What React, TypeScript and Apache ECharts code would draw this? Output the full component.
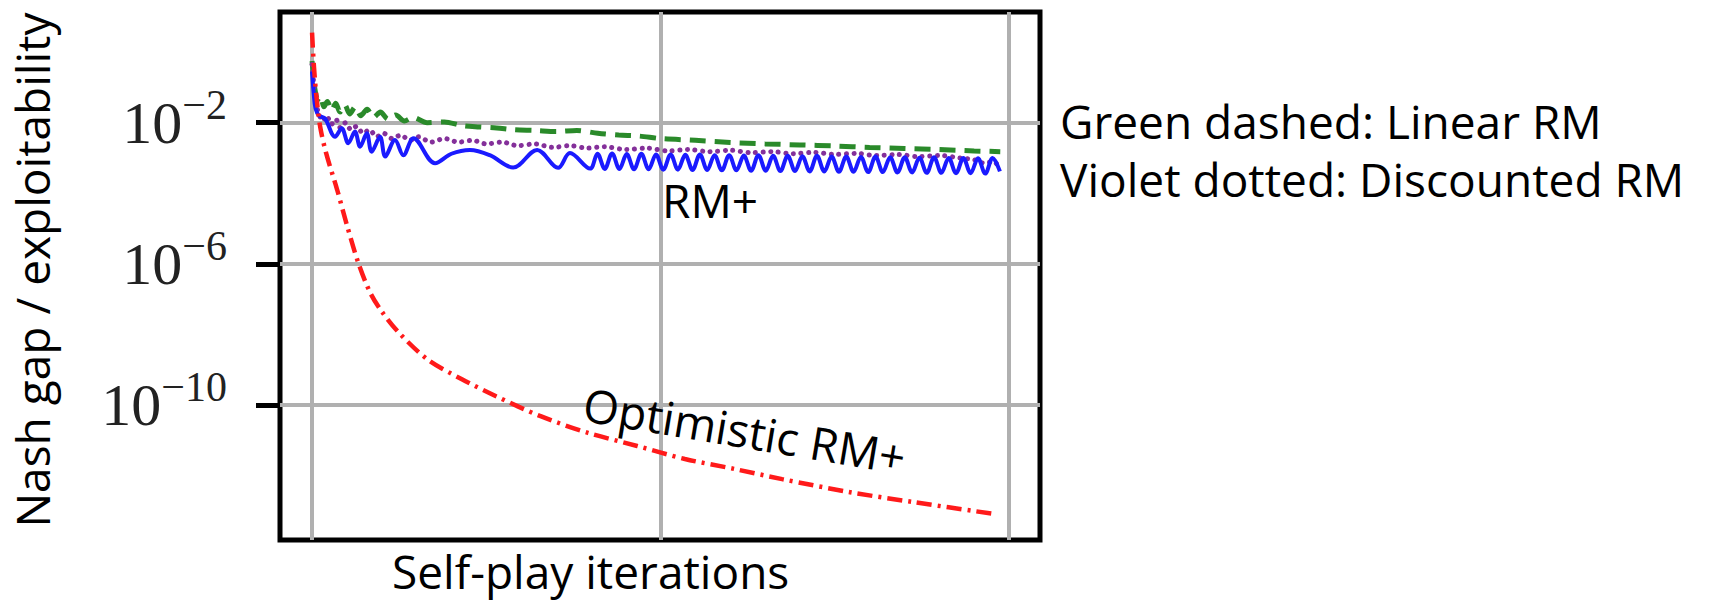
import React, { useEffect, useRef } from 'react';
import * as echarts from 'echarts';

// x axis: self-play iterations; y axis: log10 of Nash gap / exploitability
const xRange = [-92, 2089];
const yExponentRange = [-13.825, 1.137];
const iterationGridTicks = [0, 1000, 2000];
const exponentTicks = [-10, -6, -2];

// [iteration, log10(value)]
const optimisticRMPlus: number[][] = [
  [0, 0.55], [5, -0.35], [12, -1.2], [23, -2.1], [40, -2.85], [72, -3.9], [100, -4.9],
  [132, -5.95], [166, -6.8], [200, -7.35], [250, -7.96], [333, -8.72], [430, -9.27],
  [528, -9.75], [654, -10.31], [792, -10.79], [933, -11.16], [1070, -11.53],
  [1211, -11.81], [1349, -12.1], [1544, -12.47], [1725, -12.75], [1960, -13.09],
];

const linearRM: number[][] = [
  [0, -0.25], [5, -0.8], [10, -1.15], [16, -1.35], [24, -1.25], [34, -1.55], [44, -1.4],
  [56, -1.65], [68, -1.45], [80, -1.7], [94, -1.5], [108, -1.75], [124, -1.55],
  [140, -1.8], [158, -1.62], [176, -1.85], [196, -1.7], [218, -1.9], [240, -1.78],
  [265, -1.95], [290, -1.85], [330, -2.0], [380, -1.98], [430, -2.08], [480, -2.12],
  [530, -2.15], [580, -2.2], [640, -2.22], [700, -2.25], [760, -2.22], [820, -2.3],
  [880, -2.35], [940, -2.38], [1000, -2.45], [1100, -2.5], [1200, -2.56], [1300, -2.6],
  [1400, -2.63], [1500, -2.66], [1600, -2.7], [1700, -2.73], [1800, -2.76],
  [1900, -2.8], [1975, -2.82],
];

const discountedRM: number[][] = [
  [0, -0.35], [6, -1.0], [12, -1.5], [20, -1.75], [30, -1.95], [42, -1.8], [55, -2.05],
  [68, -1.9], [82, -2.15], [96, -2.0], [112, -2.2], [128, -2.1], [146, -2.3],
  [165, -2.2], [185, -2.4], [205, -2.3], [230, -2.45], [255, -2.35], [280, -2.5],
  [306, -2.4], [340, -2.55], [380, -2.45], [420, -2.55], [460, -2.5], [500, -2.6],
  [545, -2.55], [590, -2.65], [640, -2.6], [690, -2.7], [740, -2.65], [790, -2.72],
  [840, -2.68], [900, -2.76], [960, -2.72], [1020, -2.8], [1080, -2.76], [1140, -2.82],
  [1200, -2.78], [1260, -2.85], [1320, -2.82], [1380, -2.88], [1440, -2.84],
  [1500, -2.9], [1560, -2.87], [1620, -2.93], [1680, -2.9], [1740, -2.96],
  [1800, -2.93], [1860, -3.0], [1900, -3.05], [1930, -3.15], [1955, -3.1], [1975, -3.3],
];

const rmPlus: number[][] = [
  [0, -0.55], [5, -1.2], [10, -1.6], [20, -1.8], [37, -1.88], [66, -2.4], [85, -2.16],
  [104, -2.58], [123, -2.25], [138, -2.68], [157, -2.3], [171, -2.82], [195, -2.4],
  [210, -2.96], [238, -2.49], [262, -2.92], [291, -2.44], [353, -3.15], [400, -2.88],
  [453, -2.77], [510, -2.92], [577, -3.27], [646, -2.77], [706, -3.28], [740, -2.86],
  [798, -3.3], [819, -2.88], [840, -3.31], [861, -2.87], [882, -3.31], [903, -2.89],
  [924, -3.32], [945, -2.88], [966, -3.32], [987, -2.9], [1008, -3.33], [1029, -2.9],
  [1050, -3.33], [1071, -2.91], [1092, -3.34], [1113, -2.9], [1134, -3.34], [1155, -2.92],
  [1176, -3.35], [1197, -2.92], [1218, -3.35], [1239, -2.93], [1260, -3.36], [1281, -2.92],
  [1302, -3.36], [1323, -2.94], [1344, -3.37], [1365, -2.94], [1386, -3.37], [1407, -2.95],
  [1428, -3.38], [1449, -2.94], [1470, -3.38], [1491, -2.96], [1512, -3.39], [1533, -2.96],
  [1554, -3.39], [1575, -2.97], [1596, -3.4], [1617, -2.96], [1638, -3.4], [1659, -2.98],
  [1680, -3.41], [1701, -2.98], [1722, -3.41], [1743, -2.99], [1764, -3.42], [1785, -2.98],
  [1806, -3.42], [1827, -3.0], [1848, -3.43], [1869, -3.0], [1890, -3.43], [1911, -3.01],
  [1932, -3.44], [1953, -3.0], [1974, -3.38],
];

const FONT = '"Open Sans", "Noto Sans", sans-serif';
const SERIF = '"Liberation Serif", "DejaVu Serif", serif';

export default function App() {
  const ref = useRef<HTMLDivElement>(null);
  useEffect(() => {
    if (!ref.current) return;
    const chart = echarts.init(ref.current, undefined, { renderer: 'svg' });
    const annotation = (text: string, x: number, y: number, extra: any = {}) => ({
      type: 'text',
      x,
      y,
      z: 50,
      ...extra,
      style: {
        text,
        fontFamily: FONT,
        fontSize: 46,
        fill: '#000',
        align: extra.align || 'left',
        verticalAlign: 'middle',
      },
    });
    chart.setOption({
      animation: false,
      grid: {
        left: 280,
        top: 12,
        width: 760,
        height: 528,
        show: true,
        borderColor: '#000',
        borderWidth: 5,
        backgroundColor: 'transparent',
        containLabel: false,
        outerBoundsMode: 'none',
      },
      xAxis: {
        type: 'value',
        min: xRange[0],
        max: xRange[1],
        axisLine: { show: false, onZero: false },
        axisTick: { show: false, customValues: iterationGridTicks },
        axisLabel: { show: false },
        splitLine: { show: true, lineStyle: { color: '#b0b0b0', width: 4 } },
      },
      yAxis: {
        type: 'value',
        min: yExponentRange[0],
        max: yExponentRange[1],
        axisLine: { show: false, onZero: false },
        axisTick: {
          show: true,
          length: 24,
          inside: false,
          customValues: exponentTicks,
          lineStyle: { color: '#000', width: 5 },
        },
        axisLabel: {
          show: true,
          customValues: exponentTicks,
          margin: 53,
          formatter: (v: number) => `{b|10}{s|\u2212${Math.abs(v)}}`,
          rich: {
            b: { fontFamily: SERIF, fontSize: 60, lineHeight: 78, verticalAlign: 'middle', color: '#222' },
            s: { fontFamily: SERIF, fontSize: 42, lineHeight: 42, verticalAlign: 'top', color: '#222' },
          },
        },
        splitLine: { show: true, lineStyle: { color: '#b0b0b0', width: 4 } },
      },
      series: [
        {
          name: 'Linear RM',
          type: 'line',
          data: linearRM,
          showSymbol: false,
          smooth: 0.3,
          z: 3,
          lineStyle: { color: '#2a8a2a', width: 5, type: [16, 9] },
        },
        {
          name: 'Discounted RM',
          type: 'line',
          data: discountedRM,
          showSymbol: false,
          smooth: 0.3,
          z: 4,
          lineStyle: { color: '#84309a', width: 5, type: [0.1, 7.5], cap: 'round' },
        },
        {
          name: 'RM+',
          type: 'line',
          data: rmPlus,
          showSymbol: false,
          smooth: 0.35,
          z: 5,
          lineStyle: { color: '#1a1aff', width: 4 },
        },
        {
          name: 'Optimistic RM+',
          type: 'line',
          data: optimisticRMPlus,
          showSymbol: false,
          smooth: 0.3,
          z: 6,
          lineStyle: { color: '#ff1a1a', width: 4.5, type: [15, 6, 3, 6] },
        },
      ],
      graphic: [
        annotation('Nash gap / exploitability', 32, 270, { rotation: Math.PI / 2, align: 'center' }),
        annotation('Self-play iterations', 392, 571),
        annotation('RM+', 662, 200),
        annotation('Optimistic RM+', 584, 403, { rotation: -0.166 }),
        annotation('Green dashed: Linear RM', 1060, 121),
        annotation('Violet dotted: Discounted RM', 1060, 179),
      ],
    });
    return () => chart.dispose();
  }, []);
  return (
    <div
      ref={ref}
      style={{ position: 'fixed', left: 0, top: 0, width: 1717, height: 601, background: '#fff' }}
    />
  );
}
